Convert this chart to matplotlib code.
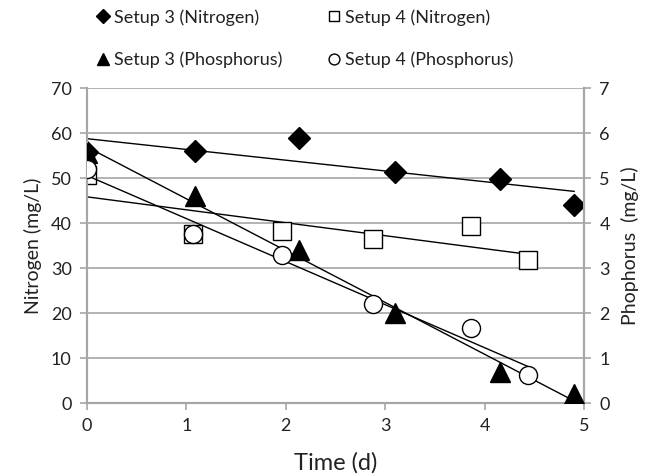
import numpy as np
import matplotlib.pyplot as plt

plt.rcParams['font.family'] = ['Lato', 'DejaVu Sans']

# Time (d) for each setup
t3 = [0.0, 1.09, 2.13, 3.1, 4.15, 4.9]
t4 = [0.0, 1.07, 1.96, 2.88, 3.86, 4.44]

# Nitrogen (mg/L)
n3 = [55.8, 56.0, 58.8, 51.4, 49.8, 44.0]
n4 = [50.7, 37.5, 38.2, 36.5, 39.3, 31.9]

# Phosphorus (mg/L)
p3 = [5.55, 4.6, 3.4, 2.0, 0.7, 0.2]
p4 = [5.2, 3.75, 3.3, 2.2, 1.68, 0.62]

gray = '#a6a6a6'
txt = '#222222'

fig = plt.figure(figsize=(6.49, 4.76), dpi=100)
ax = fig.add_axes([0.134, 0.153, 0.766, 0.662])
ax2 = ax.twinx()


def trend(a, x, y):
    k, b = np.polyfit(x, y, 1)
    xs = np.array([min(x), max(x)])
    a.plot(xs, k * xs + b, color='black', lw=1.0, zorder=2)


trend(ax, t3, n3)
trend(ax, t4, n4)
trend(ax2, t3, p3)
trend(ax2, t4, p4)

h1, = ax.plot(t3, n3, 'D', ms=11.5, color='black', ls='none', zorder=3, label='Setup 3 (Nitrogen)')
h2, = ax.plot(t4, n4, 's', ms=13, mfc='white', mec='black', mew=1.0, ls='none', zorder=3,
              label='Setup 4 (Nitrogen)')
h3, = ax2.plot(t3, p3, '^', ms=14, color='black', ls='none', zorder=3, label='Setup 3 (Phosphorus)')
h4, = ax2.plot(t4, p4, 'o', ms=13, mfc='white', mec='black', mew=1.0, ls='none', zorder=3,
               label='Setup 4 (Phosphorus)')

ax.set_xlim(0, 5)
ax.set_ylim(0, 70)
ax2.set_ylim(0, 7)
ax.set_yticks(range(0, 71, 10))
ax2.set_yticks(range(0, 8))
ax.yaxis.grid(True, color=gray, lw=1.2)
ax.set_axisbelow(True)

for a in (ax, ax2):
    a.spines['top'].set_visible(False)
    for s in ('left', 'right', 'bottom'):
        a.spines[s].set_color(gray)
        a.spines[s].set_linewidth(1.5)
    a.tick_params(colors=gray, labelcolor=txt, labelsize=13, length=5, width=1.2, pad=6)

ax.set_xlabel('Time (d)', fontsize=17, color=txt, labelpad=13)
ax.set_ylabel('Nitrogen (mg/L)', fontsize=14, color=txt, labelpad=6)
ax2.set_ylabel('Phophorus  (mg/L)', fontsize=14, color=txt, labelpad=8)

leg = fig.legend([h1, h3, h2, h4], [h.get_label() for h in (h1, h3, h2, h4)],
                 ncol=2, loc='upper left', bbox_to_anchor=(0.125, 1.015), frameon=False,
                 fontsize=13, markerscale=0.6, handlelength=0.6, handletextpad=0.3,
                 labelspacing=1.45, columnspacing=2.6)
for t in leg.get_texts():
    t.set_color(txt)

fig.savefig('out.png', dpi=100)
